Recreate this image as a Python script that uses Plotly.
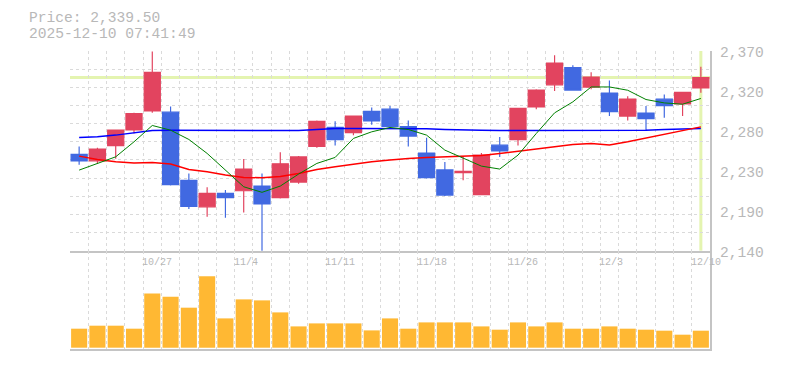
import plotly.graph_objects as go

# ---------------- data ----------------
dates = ["10/21", "10/22", "10/23", "10/24", "10/27", "10/28", "10/29", "10/30", "10/31",
         "11/4", "11/5", "11/6", "11/7", "11/10", "11/11", "11/12", "11/13", "11/14",
         "11/17", "11/18", "11/19", "11/20", "11/21", "11/25", "11/26", "11/27", "11/28",
         "12/1", "12/2", "12/3", "12/4", "12/5", "12/8", "12/9", "12/10"]

opens = [2251, 2243.5, 2261, 2279, 2301, 2299.5, 2221, 2190.5, 2206, 2209, 2214.5, 2201,
         2219, 2260, 2282, 2276, 2300.5, 2303, 2283, 2252.5, 2233, 2230, 2204.5, 2261.5,
         2268, 2305.5, 2331, 2351, 2328.5, 2321.5, 2295, 2298.5, 2314.5, 2309, 2327.5]
highs = [2260, 2258.5, 2279, 2299, 2369.5, 2306, 2229, 2213, 2210, 2245.5, 2229, 2253.5,
         2249, 2290, 2289, 2295.5, 2305, 2306.5, 2290, 2270, 2242, 2249, 2252.5, 2271,
         2304.5, 2326, 2365, 2353.5, 2345.5, 2336, 2318, 2306.5, 2320, 2323, 2352]
lows = [2239, 2240, 2246, 2275, 2299, 2215, 2188, 2179, 2178, 2184, 2139, 2200,
        2217, 2258.5, 2261, 2273, 2285, 2282, 2260, 2223, 2203, 2221, 2204, 2248,
        2261, 2303, 2324, 2325, 2326, 2295, 2290, 2279, 2293, 2295, 2322]
closes = [2243.5, 2257, 2279, 2298, 2345.5, 2216, 2191, 2206, 2201, 2234, 2194, 2240,
          2248, 2289, 2268, 2295, 2289.5, 2283, 2272, 2224, 2204, 2231.5, 2250, 2255,
          2304, 2325, 2356, 2325, 2340, 2300, 2314.5, 2292, 2307, 2322.5, 2339.5]

ma5 = [2232.8, 2240.5, 2248.1, 2265.4, 2284.2, 2278.8, 2268.1, 2252.0, 2232.8, 2213.6,
       2207.2, 2214.4, 2228.2, 2240.5, 2247.4, 2269.3, 2276.9, 2281.9, 2279.6, 2273.1,
       2255.8, 2246.3, 2237.4, 2234.0, 2250.1, 2275.0, 2298.7, 2311.4, 2328.6, 2328.6,
       2324.8, 2314.1, 2310.2, 2308.7, 2315.3]
ma25 = [2248.9, 2245.1, 2242.4, 2240.9, 2241.7, 2239.7, 2233.6, 2230.9, 2227.1, 2224.4,
        2224.0, 2225.5, 2229.0, 2233.6, 2236.6, 2239.7, 2242.4, 2244.3, 2246.3, 2247.4,
        2248.1, 2248.1, 2249.5, 2252.0, 2254.7, 2257.3, 2260.4, 2262.4, 2263.5, 2261.6,
        2265.4, 2269.6, 2273.9, 2278.0, 2282.6]
ma75 = [2270.4, 2271.1, 2273.1, 2275.7, 2278.5, 2278.8, 2278.8, 2278.0, 2278.0, 2278.0,
        2278.0, 2278.3, 2278.3, 2279.6, 2280.8, 2280.8, 2280.8, 2280.8, 2280.8, 2280.3,
        2279.6, 2278.8, 2278.6, 2278.5, 2278.5, 2278.5, 2278.5, 2278.5, 2278.5, 2278.5,
        2278.8, 2278.8, 2279.6, 2280.0, 2280.8]

volumes = [380, 440, 440, 380, 1086, 1020, 800, 1426, 586, 966, 946, 706, 426, 486, 486,
           486, 346, 586, 380, 506, 506, 506, 426, 360, 506, 426, 506, 380, 380, 426,
           380, 360, 340, 260, 340]  # thousand shares

x_tick_labels = ["10/27", "11/4", "11/11", "11/18", "11/26", "12/3", "12/10"]
y_tick_values = [2140, 2186, 2232, 2278, 2324, 2370]
y_tick_labels = ["2,140", "2,190", "2,230", "2,280", "2,320", "2,370"]
timestamp = "2025-12-10 07:41:49"

# ---------------- style ----------------
FONT = "Liberation Mono"
RED = "#e2445f"
BLUE = "#4169e1"
ORANGE = "#ffb833"
GRID = "#dadada"
BORDER = "#c4c4c4"
TEXT = "#b8b8b8"
HL = "#e4f4b0"

Y_MIN, Y_MAX = 2140, 2370
n = len(dates)
xs = list(range(n))
PRICE_DOM = [0.33, 1.0]
VOL_DOM = [0.0, 0.33]

fig = go.Figure()

fig.add_trace(go.Scatter(x=xs, y=ma75, mode="lines", line=dict(color="#0000ff", width=1.5),
                         hoverinfo="skip", showlegend=False))
fig.add_trace(go.Scatter(x=xs, y=ma25, mode="lines", line=dict(color="#ff0000", width=1.5),
                         hoverinfo="skip", showlegend=False))
fig.add_trace(go.Scatter(x=xs, y=ma5, mode="lines", line=dict(color="#008000", width=1),
                         hoverinfo="skip", showlegend=False))

fig.add_trace(go.Candlestick(
    x=xs, open=opens, high=highs, low=lows, close=closes,
    text=dates,
    increasing=dict(line=dict(color=RED, width=1.2), fillcolor=RED),
    decreasing=dict(line=dict(color=BLUE, width=1.2), fillcolor=BLUE),
    whiskerwidth=0, showlegend=False, xaxis="x", yaxis="y"))

fig.add_trace(go.Bar(x=xs, y=volumes, marker=dict(color=ORANGE, line_width=0),
                     xaxis="x2", yaxis="y2", showlegend=False, hovertext=dates))

# highlight lines for last price
fig.add_shape(type="line", xref="x domain", yref="y", x0=0, x1=1,
              y0=closes[-1], y1=closes[-1], line=dict(color=HL, width=3), layer="below")
fig.add_shape(type="line", xref="x", yref="y domain", x0=xs[-1], x1=xs[-1],
              y0=0, y1=1, line=dict(color=HL, width=3), layer="below")

grid_x = [i - 0.5 for i in range(n + 1)]
grid_y = [Y_MIN + k * (Y_MAX - Y_MIN) / 11 for k in range(12)]

common_x = dict(range=[-0.5, n - 0.5], tickmode="array", tickvals=grid_x,
                showticklabels=False, ticks="", showgrid=True, gridcolor=GRID,
                griddash="3px,3px", gridwidth=1, zeroline=False,
                showline=True, linecolor=BORDER, linewidth=1.5)

annotations = []
for lbl in x_tick_labels:
    annotations.append(dict(x=dates.index(lbl), xref="x", y=PRICE_DOM[0], yref="paper",
                            text=lbl, showarrow=False, xanchor="left", yanchor="middle",
                            xshift=-12, yshift=-11.5,
                            font=dict(family=FONT, size=10, color=TEXT)))
for v, t in zip(y_tick_values, y_tick_labels):
    annotations.append(dict(x=1, xref="paper", y=v, yref="y", text=t, showarrow=False,
                            xanchor="left", yanchor="middle", xshift=8, yshift=-2.3,
                            font=dict(family=FONT, size=14.6, color=TEXT)))
annotations.append(dict(x=0, xref="paper", y=1, yref="paper",
                        text=f"Price: {closes[-1]:,.2f}", showarrow=False,
                        xanchor="left", yanchor="middle", xshift=-43, yshift=33,
                        font=dict(family=FONT, size=14.6, color=TEXT)))
annotations.append(dict(x=0, xref="paper", y=1, yref="paper", text=timestamp,
                        showarrow=False, xanchor="left", yanchor="middle",
                        xshift=-43, yshift=17.5,
                        font=dict(family=FONT, size=14.6, color=TEXT)))

# page body has an 8px default margin, so the figure is sized/offset to compensate
fig.update_layout(
    width=769, height=354,
    margin=dict(l=62, r=67, t=43, b=13),
    paper_bgcolor="white", plot_bgcolor="white",
    font=dict(family=FONT, color=TEXT),
    showlegend=False,
    boxgap=0.12, boxgroupgap=0, bargap=0.12,
    xaxis=dict(domain=[0, 1], anchor="y", rangeslider=dict(visible=False), **common_x),
    xaxis2=dict(domain=[0, 1], anchor="y2", matches="x", **common_x),
    yaxis=dict(domain=PRICE_DOM, anchor="x", side="right", range=[Y_MIN, Y_MAX],
               tickmode="array", tickvals=grid_y, showticklabels=False, ticks="",
               showgrid=True, gridcolor=GRID, griddash="3px,3px", gridwidth=1,
               zeroline=False, showline=True, linecolor=BORDER, linewidth=1.5),
    yaxis2=dict(domain=VOL_DOM, anchor="x2", side="right", range=[-26, 1940],
                showgrid=False, showticklabels=False, ticks="", zeroline=False,
                showline=True, linecolor=BORDER, linewidth=1.5),
    annotations=annotations,
)

fig.write_html("out.html")
